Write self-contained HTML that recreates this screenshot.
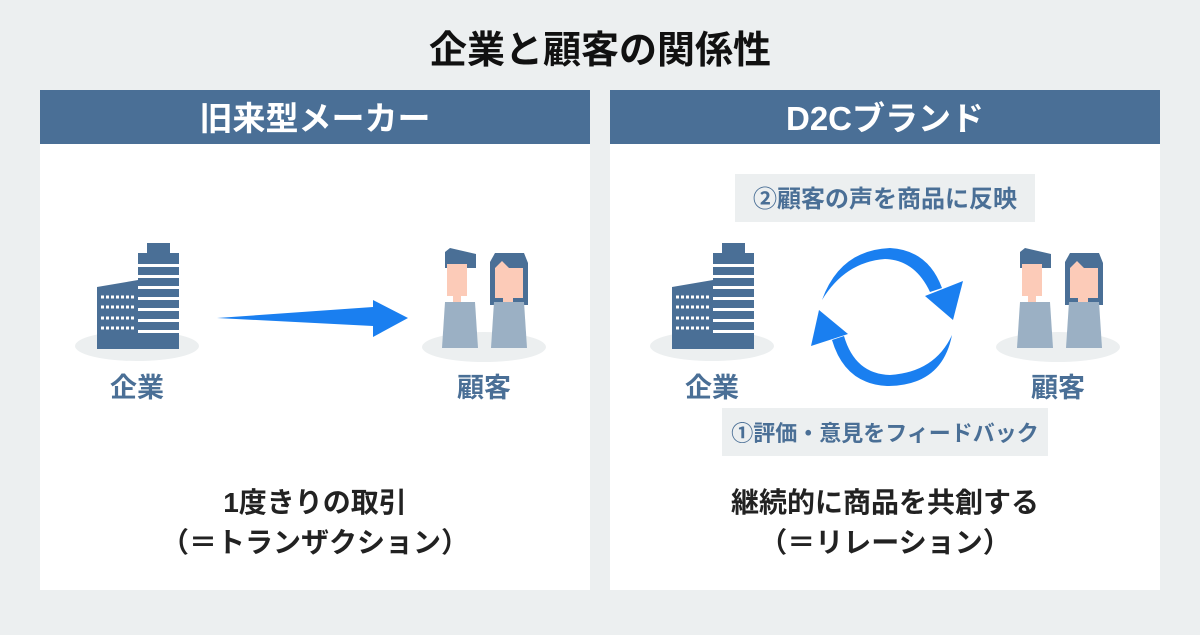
<!DOCTYPE html>
<html><head><meta charset="utf-8"><style>
html,body{margin:0;padding:0;}
body{width:1200px;height:630px;background:#eceff0;overflow:hidden;}
svg text{font-family:"Liberation Sans","Noto Sans CJK JP",sans-serif;font-weight:bold;}
</style></head><body>
<svg width="1200" height="630" viewBox="0 0 1200 630" xmlns="http://www.w3.org/2000/svg">
<defs>
<g id="bld">
 <rect x="9" y="0" width="23" height="12" fill="#4a6f96"/>
 <rect x="0" y="10" width="41" height="96" fill="#4a6f96"/>
 <g fill="#fff">
  <rect x="0" y="21" width="41" height="3"/><rect x="0" y="32" width="41" height="3"/>
  <rect x="0" y="43" width="41" height="3"/><rect x="0" y="54" width="41" height="3"/>
  <rect x="0" y="65" width="41" height="3"/><rect x="0" y="76" width="41" height="3"/>
  <rect x="0" y="87" width="41" height="3"/>
 </g>
 <polygon points="-41,44 0,37 0,106 -41,106" fill="#4a6f96"/>
 <g stroke="#fff" stroke-width="3" stroke-dasharray="3,2">
  <line x1="-37" y1="54" x2="-4" y2="54"/><line x1="-37" y1="64" x2="-4" y2="64"/>
  <line x1="-37" y1="75" x2="-4" y2="75"/><line x1="-37" y1="85" x2="-4" y2="85"/>
 </g>
</g>
<g id="ppl">
 <polygon points="3,4 8,0 34,6 34,20 3,20" fill="#4a6f96"/>
 <rect x="5" y="16" width="20" height="32" fill="#fccbb8"/>
 <rect x="11" y="47" width="8" height="8" fill="#fccbb8"/>
 <polygon points="3,54 33,54 36,100 0,100" fill="#9bb0c4"/>
 <polygon points="48,14 53,5 82,5 86,15 86,57 48,57" fill="#4a6f96"/>
 <polygon points="53,20 60,13 67,20 81,20 81,50 53,50" fill="#fccbb8"/>
 <rect x="61" y="49" width="10" height="7" fill="#fccbb8"/>
 <polygon points="52,54 82,54 85,100 49,100" fill="#9bb0c4"/>
</g>
</defs>

<text x="600" y="63" text-anchor="middle" font-size="38" fill="#111">企業と顧客の関係性</text>

<!-- left panel -->
<rect x="40" y="90" width="550" height="500" fill="#fff"/>
<rect x="40" y="90" width="550" height="54" fill="#4a6f96"/>
<text x="315" y="130" text-anchor="middle" font-size="33" fill="#fff" font-weight="normal">旧来型メーカー</text>
<ellipse cx="137" cy="346" rx="62" ry="15" fill="#eceff0"/>
<use href="#bld" x="138" y="243"/>
<ellipse cx="484" cy="347" rx="62" ry="15" fill="#eceff0"/>
<use href="#ppl" x="442" y="248"/>
<polygon points="217,318 373,307 373,300 408,318 373,337 373,326" fill="#1a7ff0"/>
<text x="137" y="397" text-anchor="middle" font-size="27" fill="#4a6f96">企業</text>
<text x="484" y="397" text-anchor="middle" font-size="27" fill="#4a6f96">顧客</text>
<text x="315" y="512" text-anchor="middle" font-size="28" fill="#222">1度きりの取引</text>
<text x="315" y="552" text-anchor="middle" font-size="28" fill="#222">（＝トランザクション）</text>

<!-- right panel -->
<rect x="610" y="90" width="550" height="500" fill="#fff"/>
<rect x="610" y="90" width="550" height="54" fill="#4a6f96"/>
<text x="885" y="130" text-anchor="middle" font-size="33" fill="#fff" font-weight="normal">D2Cブランド</text>
<rect x="735" y="174" width="300" height="48" fill="#eceff0"/>
<text x="885" y="207" text-anchor="middle" font-size="24" fill="#4a6f96">②顧客の声を商品に反映</text>
<rect x="722" y="408" width="326" height="48" fill="#eceff0"/>
<text x="885" y="441" text-anchor="middle" font-size="22" fill="#4a6f96">①評価・意見をフィードバック</text>
<ellipse cx="712" cy="346" rx="62" ry="15" fill="#eceff0"/>
<use href="#bld" x="713" y="243"/>
<ellipse cx="1058" cy="347" rx="62" ry="15" fill="#eceff0"/>
<use href="#ppl" x="1017" y="248"/>
<text x="712" y="397" text-anchor="middle" font-size="27" fill="#4a6f96">企業</text>
<text x="1058" y="397" text-anchor="middle" font-size="27" fill="#4a6f96">顧客</text>
<path d="M 822 300 Q 840 250 890 248 Q 928 250 942 288 L 930 292 Q 915 260 885 259 Q 845 262 822 300 Z" fill="#1a7ff0"/>
<polygon points="925,296 963,281 953,320" fill="#1a7ff0"/>
<path d="M 952 335 Q 942 386 887 386 Q 845 384 832 340 L 844 336 Q 855 374 890 375 Q 935 372 952 335 Z" fill="#1a7ff0"/>
<polygon points="811,346 819,310 848,334" fill="#1a7ff0"/>
<text x="885" y="512" text-anchor="middle" font-size="28" fill="#222">継続的に商品を共創する</text>
<text x="885" y="552" text-anchor="middle" font-size="28" fill="#222">（＝リレーション）</text>
</svg>
</body></html>
